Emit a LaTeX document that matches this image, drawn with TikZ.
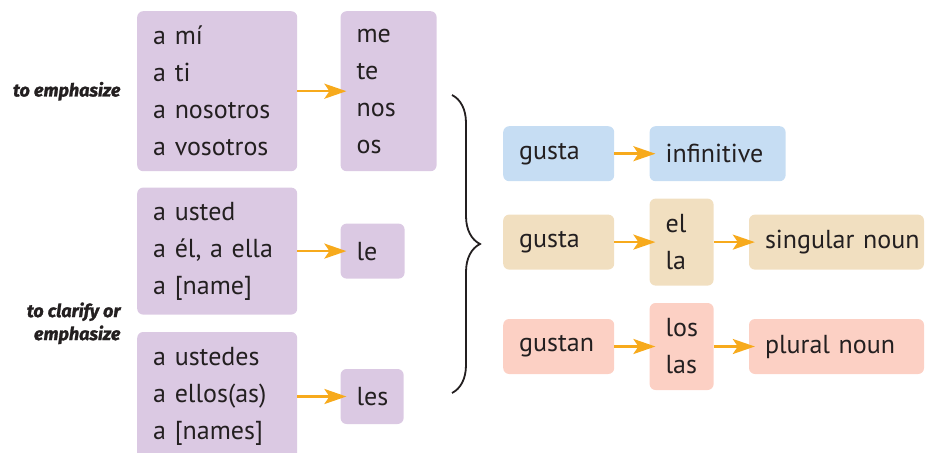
\documentclass[tikz,border=0pt]{standalone}
\usepackage{fontspec}
\setmainfont{PT Sans}
\newfontfamily\hintfont{Fira Sans}[FakeBold=1.5]
\usetikzlibrary{positioning, calc, arrows.meta, decorations.pathreplacing}

\definecolor{lilac}{HTML}{DBC9E3}
\definecolor{sky}{HTML}{C6DDF3}
\definecolor{sand}{HTML}{F1DFC0}
\definecolor{salmon}{HTML}{FCD0C4}
\definecolor{amber}{HTML}{F7AA1C}
\definecolor{ink}{HTML}{231F20}

\tikzset{
  tag/.style={rectangle, rounded corners=6pt, inner xsep=16pt, inner ysep=0pt,
    align=left, text=ink, font=\fontsize{26}{37}\selectfont},
  link/.style={-{Stealth[length=22pt, width=15pt, inset=5pt]}, draw=amber,
    line width=2.5pt, shorten >=-6pt},
  hint/.style={align=right, text=ink, font=\hintfont\fontsize{18}{23}\selectfont\bfseries\itshape}
}

\begin{document}
\begin{tikzpicture}

\useasboundingbox (0pt,0pt) rectangle (925pt,-452pt);

% pronouns with a
\node[tag, fill=lilac, anchor=north west, text width=128pt, minimum height=160pt] (amí) at (137pt,-11pt) {
  a mí\\ a ti\\ a nosotros\\ a vosotros};
\node[tag, fill=lilac, text width=64pt, minimum height=160pt, right=43pt of amí] (me) {
  me\\ te\\ nos\\ os};

\node[tag, fill=lilac, text width=128pt, minimum height=127pt, below=16pt of amí] (usted) {
  a usted\\ a él, a ella\\ a [name]};
\node[tag, fill=lilac, text width=32pt, minimum height=55pt, right=43pt of usted] (le) {le};

\node[tag, fill=lilac, text width=128pt, minimum height=129pt, below=17pt of usted] (ustedes) {
  a ustedes\\ a ellos(as)\\ a [names]};
\node[tag, fill=lilac, text width=31pt, minimum height=55pt, right=43pt of ustedes] (les) {les};

\node[hint, left=13pt of amí] (emph) {to emphasize};
\coordinate (gap) at ($(usted.south west)!0.5!(ustedes.north west)$);
\node[hint, left=13pt of gap] (clar) {to clarify or\\ emphasize};

\draw[link] (amí) -- (me);
\draw[link] (usted) -- (le);
\draw[link] (ustedes.east |- les.west) -- (les);

% brace
\coordinate (braceTop) at (452pt,-95pt);
\coordinate (braceBot) at (452pt,-393pt);
\draw[ink, line width=1.8pt, decorate, decoration={brace, amplitude=28pt, aspect=0.5}]
  (braceTop) -- (braceBot);

% gustar
\node[tag, fill=sky, anchor=north west, text width=79pt, minimum height=55pt] (gusta1) at (503pt,-126pt) {gusta};
\node[tag, fill=sky, text width=104pt, minimum height=55pt, right=35pt of gusta1] (inf) {infinitive};

\node[tag, fill=sand, text width=79pt, minimum height=55pt, below=33pt of gusta1] (gusta2) {gusta};
\node[tag, fill=sand, text width=32pt, minimum height=87pt, right=35pt of gusta2] (ella) {el\\ la};
\node[tag, fill=sand, text width=143pt, minimum height=55pt, right=35pt of ella] (sing) {\mbox{singular noun}};

\node[tag, fill=salmon, text width=79pt, minimum height=55pt, below=49pt of gusta2] (gustan) {gustan};
\node[tag, fill=salmon, text width=32pt, minimum height=87pt, right=35pt of gustan] (loslas) {los\\ las};
\node[tag, fill=salmon, text width=143pt, minimum height=55pt, right=35pt of loslas] (plur) {\mbox{plural noun}};

\draw[link] (gusta1) -- (inf);
\draw[link] (gusta2) -- (ella);
\draw[link] (ella) -- (sing);
\draw[link] (gustan) -- (loslas);
\draw[link] (loslas) -- (plur);

\end{tikzpicture}
\end{document}
